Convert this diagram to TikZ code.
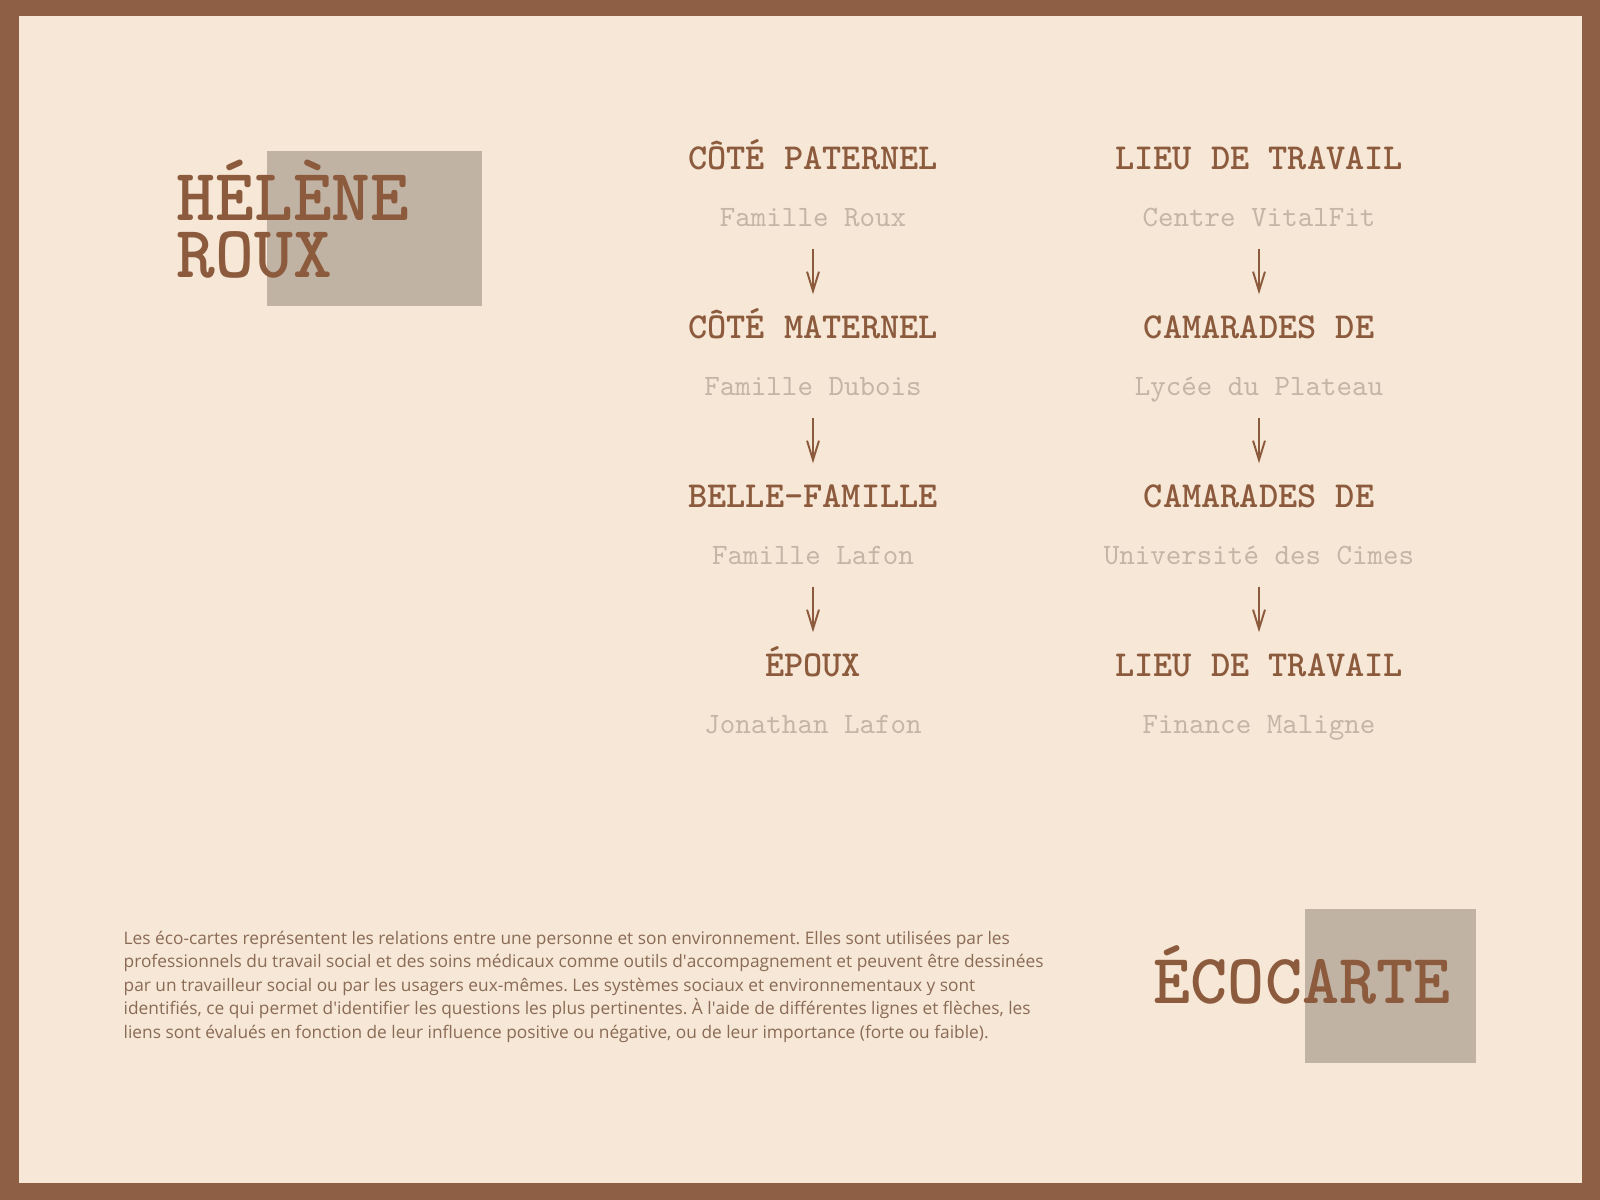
\documentclass[tikz,border=0pt]{standalone}
\usepackage{fontspec}
\setmainfont{Open Sans}
\newfontfamily\headfont{lmmonolt10-bold.otf}
\newfontfamily\subfont{lmmono10-regular.otf}
\usetikzlibrary{arrows.meta}
\definecolor{frame}{HTML}{8E5F45}
\definecolor{paper}{HTML}{F6E7D6}
\definecolor{patch}{HTML}{C1B3A4}
\definecolor{ink}{HTML}{8C5A3C}
\definecolor{faded}{HTML}{C4B6A7}
\definecolor{prose}{HTML}{8A6B55}

\begin{document}
\begin{tikzpicture}[x=0.01cm,y=-0.01cm,
    head/.style={anchor=base,inner sep=0pt,text height=0.2cm,text depth=0pt,text=ink,font=\fontsize{10.4}{12}\headfont},
    who/.style={anchor=base,inner sep=0pt,text depth=0pt,text=faded,font=\fontsize{8.4}{10}\subfont},
    big/.style={anchor=base west,inner sep=0pt,align=left,text=ink,font=\fontsize{21}{16.2}\headfont},
    link/.style={draw=ink,line width=0.55pt,-{Straight Barb[length=5.5pt,width=3.4pt]},shorten <=0.22cm,shorten >=0.23cm}]
    \fill[frame] (0,0) rectangle (1600,1200);
    \fill[paper] (19,16) rectangle (1582,1183);
    \fill[patch] (267,151) rectangle (482,306);
    \fill[patch] (1305,909) rectangle (1476,1063);

    \node[big] (name) at (176,277) {HÉLÈNE\\ROUX};
    \node[big,font=\fontsize{20.1}{20}\headfont] (eco) at (1153,1003) {ÉCOCARTE};

    \node[head] (pat) at (813,169) {CÔTÉ PATERNEL};
    \node[who] (roux) at (813,226) {Famille Roux};
    \node[head] (mat) at (813,338) {CÔTÉ MATERNEL};
    \node[who] (dubois) at (813,395) {Famille Dubois};
    \node[head] (belle) at (813,507) {BELLE-FAMILLE};
    \node[who] (lafon) at (813,564) {Famille Lafon};
    \node[head] (epoux) at (813,676) {ÉPOUX};
    \node[who] (jonathan) at (813,733) {Jonathan Lafon};

    \node[head] (work1) at (1259,169) {LIEU DE TRAVAIL};
    \node[who] (vitalfit) at (1259,226) {Centre VitalFit};
    \node[head] (mates1) at (1259,338) {CAMARADES DE};
    \node[who] (lycee) at (1259,395) {Lycée du Plateau};
    \node[head] (mates2) at (1259,507) {CAMARADES DE};
    \node[who] (univ) at (1259,564) {Université des Cimes};
    \node[head] (work2) at (1259,676) {LIEU DE TRAVAIL};
    \node[who] (finance) at (1259,733) {Finance Maligne};

    \draw[link] (roux) edge (mat) (dubois) edge (belle) (lafon) edge (epoux);
    \draw[link] (vitalfit) edge (mates1) (lycee) edge (mates2) (univ) edge (work2);

    \node[anchor=base west,inner sep=0pt,align=left,text=prose,font=\fontsize{4.92}{6.64}\selectfont\frenchspacing] (blurb) at (123,1038)
    {Les éco-cartes représentent les relations entre une personne et son environnement. Elles sont utilisées par les\\
    professionnels du travail social et des soins médicaux comme outils d\textquotesingle accompagnement et peuvent être dessinées\\
    par un travailleur social ou par les usagers eux-mêmes. Les systèmes sociaux et environnementaux y sont\\
    identifiés, ce qui permet d\textquotesingle identifier les questions les plus pertinentes. À l\textquotesingle aide de différentes lignes et flèches, les\\
    liens sont évalués en fonction de leur influence positive ou négative, ou de leur importance (forte ou faible).};
\end{tikzpicture}
\end{document}
